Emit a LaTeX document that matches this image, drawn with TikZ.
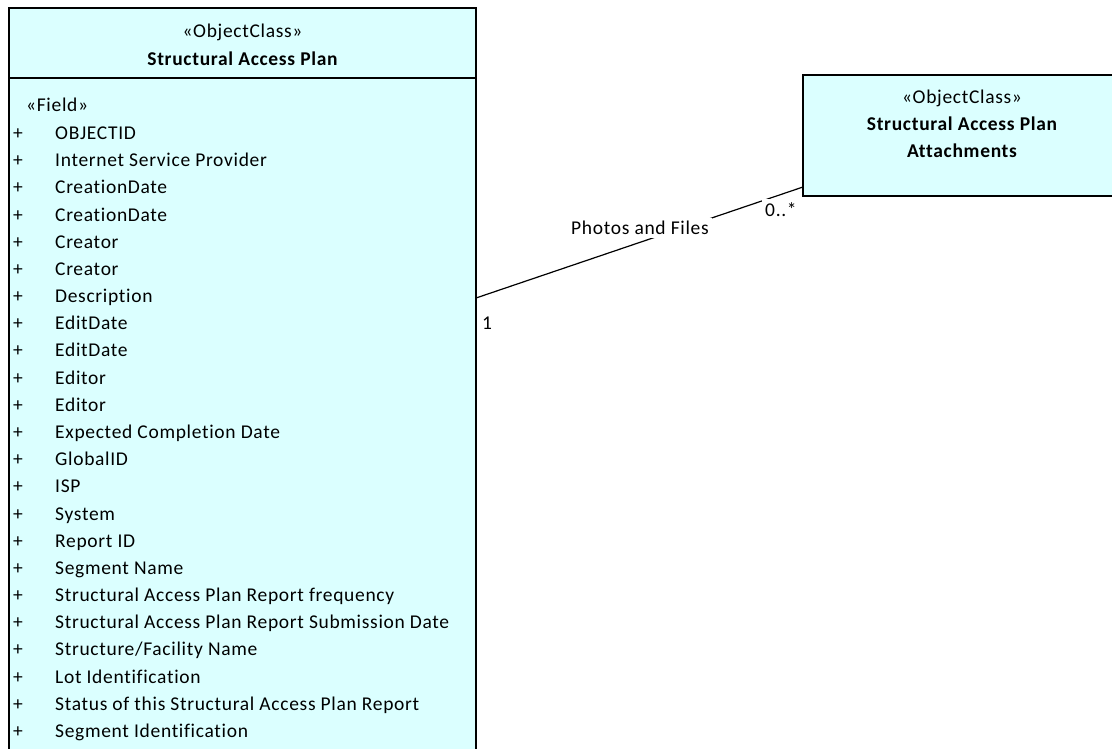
\documentclass[tikz,border=0pt]{standalone}
\usepackage{fontspec}
\setmainfont{Carlito}[Ligatures={NoCommon}, LetterSpace=3.5]
\definecolor{clsfill}{RGB}{219,255,255}
\begin{document}
\begin{tikzpicture}[x=1pt,y=-1pt,font=\fontsize{19.5}{23}\selectfont]
\tikzset{
  cls/.style={draw=black, fill=clsfill, line width=1.3pt, inner sep=0pt, outer sep=0pt},
  txt/.style={inner sep=0pt, anchor=base},
  bold/.style={font=\fontsize{19.5}{23}\selectfont\bfseries},
  fld/.style={inner sep=0pt, anchor=base west},
  lbl/.style={fill=white, inner sep=3pt},
  assoc/.style={draw=black, line width=1.2pt}
}
\useasboundingbox (0,0) rectangle (1112,749);
% left class
\node[cls, anchor=north west, minimum width=467pt, minimum height=770pt] (sap) at (9,8) {};
\coordinate (hsep) at (0,78);
\draw[line width=1.3pt] (sap.west |- hsep) -- (sap.east |- hsep);
\node[txt] (sapst) at (242.5,38) {«ObjectClass»};
\node[txt, bold] (sapnm) at (242.5,66) {Structural Access Plan};
\node[fld] (fstereo) at (26,112) {«Field»};
\foreach \t [count=\i from 0] in {OBJECTID, Internet Service Provider, CreationDate, CreationDate, Creator, Creator, Description, EditDate, EditDate, Editor, Editor, Expected Completion Date, GlobalID, ISP, System, Report ID, Segment Name, Structural Access Plan Report frequency, Structural Access Plan Report Submission Date, {Structure/Facility Name}, Lot Identification, Status of this Structural Access Plan Report, Segment Identification}{
  \node[fld] (plus\i) at (13,139.5+27.18*\i) {+};
  \node[fld] (f\i) at (55,139.5+27.18*\i) {\t};
}
% right class
\node[cls, anchor=north west, minimum width=318pt, minimum height=121pt] (att) at (803,75) {};
\node[txt] (attst) at (962,104) {«ObjectClass»};
\node[txt, bold] (attnm1) at (962,131) {Structural Access Plan};
\node[txt, bold] (attnm2) at (962,158) {Attachments};
% association
\coordinate (ya) at (0,298);
\coordinate (yb) at (0,187);
\draw[assoc] (sap.east |- ya) coordinate (pa) -- (att.west |- yb) coordinate (pb);
\node[lbl, anchor=center] (name) at (640,228) {Photos and Files};
\node[lbl, anchor=base west] (mb) at (762,216) {0..*};
\node[fld] (ma) at (482,329) {1};
\end{tikzpicture}
\end{document}
